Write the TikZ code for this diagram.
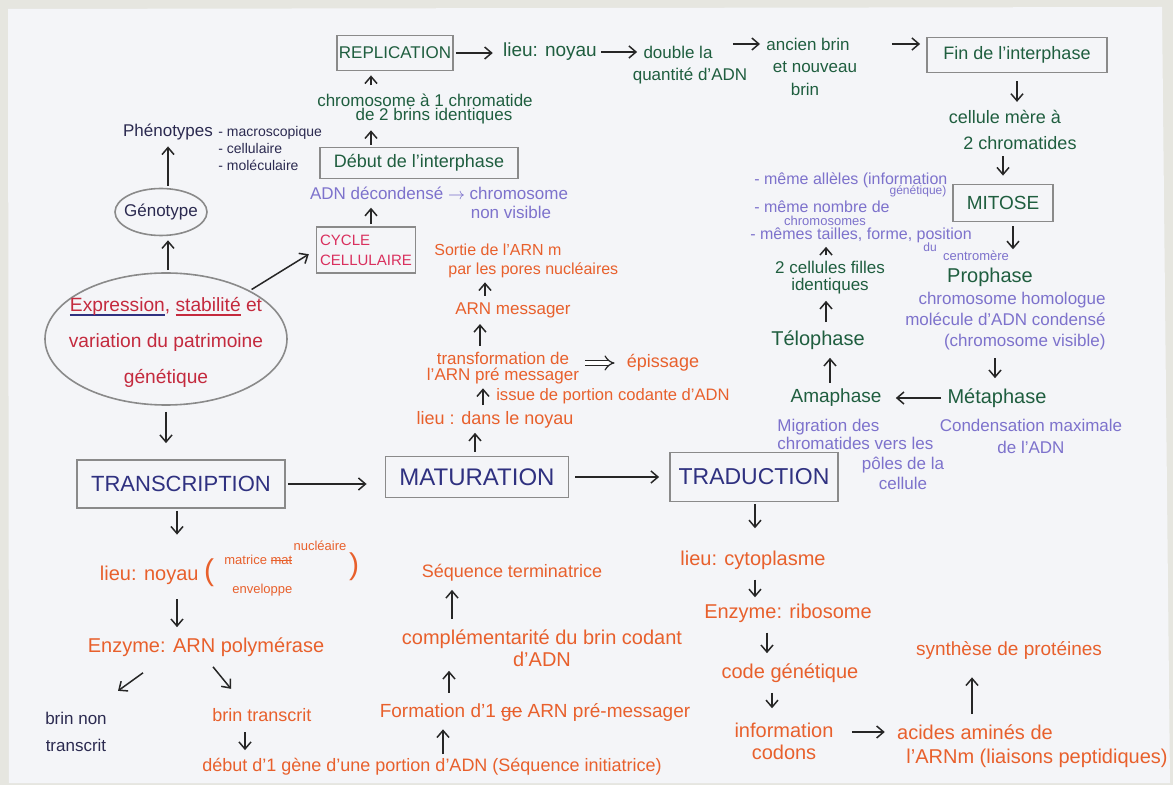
\documentclass[tikz,border=0pt]{standalone}
\usepackage{fontspec}
\setmainfont{Liberation Sans}
\usetikzlibrary{arrows.meta,shapes.geometric,calc}
\definecolor{bgc}{HTML}{E6E6E0}
\definecolor{paperc}{HTML}{F4F5F8}
\definecolor{navyc}{HTML}{2F3180}
\definecolor{darkc}{HTML}{2B2A50}
\definecolor{greenc}{HTML}{1F5E3F}
\definecolor{purplec}{HTML}{7D72CC}
\definecolor{orangec}{HTML}{E8602C}
\definecolor{redc}{HTML}{C42A3E}
\definecolor{pinkc}{HTML}{D9305E}
\definecolor{boxc}{HTML}{8A8A8A}
\newlength\myulw
\newcommand\colul[2]{\settowidth{\myulw}{#2}\rlap{\textcolor{#1}{\rule[-0.45ex]{\myulw}{0.7pt}}}#2}
\newcommand\strk[1]{\settowidth{\myulw}{#1}\rlap{\rule[0.5ex]{\myulw}{0.6pt}}#1}
\tikzset{
  fz/.style 2 args={font=\fontsize{#1}{#2}\selectfont},
  gtx/.style={text=greenc},
  ptx/.style={text=purplec},
  otx/.style={text=orangec},
  ntx/.style={text=navyc},
  dtx/.style={text=darkc},
  arr/.style={-{Straight Barb[length=3.5pt,width=6pt]}, line width=0.75pt, draw=black!85},
  dblarr/.style={-{Implies}, double, double distance=2pt, line width=0.6pt, draw=black!85},
  bx/.style 2 args={draw=boxc, line width=0.9pt, minimum width=#1, minimum height=#2, inner sep=1pt},
  ell/.style 2 args={ellipse, draw=boxc, line width=0.8pt, minimum width=#1, minimum height=#2, inner sep=0pt},
}
\begin{document}
\begin{tikzpicture}[x=0.5pt,y=-0.5pt, every node/.style={inner sep=1pt, align=center}]
\useasboundingbox (0,0) rectangle (1173,785);
\fill[bgc] (0,0) rectangle (1173,785);
\fill[paperc] (8,9) -- (1162,7) -- (1170,783) -- (9,783) -- cycle;

% ---------- top row ----------
\node[bx={58pt}{17.5pt}, gtx, fz={8.5}{10}] (repl) at (395,53) {REPLICATION};
\node[gtx, fz={9.5}{11}] (lieu1) at (550,52) {lieu: noyau};
\node[gtx, fz={8.5}{10}] (dbl1) at (678,52) {double la};
\node[gtx, fz={8.5}{10}] (dbl2) at (690,76) {quantité d'ADN};
\node[gtx, fz={8.5}{10}] (anc1) at (808,44) {ancien brin};
\node[gtx, fz={8.5}{10}] (anc2) at (815,67) {et nouveau};
\node[gtx, fz={8.5}{10}] (anc3) at (805,89) {brin};
\node[bx={90pt}{17.5pt}, gtx, fz={9}{10}] (fin) at (1017,55) {Fin de l'interphase};
\node[gtx, fz={9}{10}] (cel1) at (1005,117) {cellule mère à};
\node[gtx, fz={9}{10}] (cel2) at (1020,143) {2 chromatides};
\node[bx={50pt}{18.5pt}, gtx, fz={9.5}{10}] (mitose) at (1003,203) {MITOSE};

% ---------- mitosis cycle ----------
\node[gtx, fz={10}{11}] (proph) at (990,277) {Prophase};
\node[ptx, fz={8.5}{10.5}, align=right, anchor=east] (prd) at (1108,321) {chromosome homologue\\molécule d'ADN condensé\\(chromosome visible)};
\node[gtx, fz={10}{11}] (meta) at (997,398) {Métaphase};
\node[ptx, fz={8.5}{11}] (cond) at (1031,436) {Condensation maximale\\de l'ADN};
\node[gtx, fz={9.5}{11}] (ama) at (836,398) {Amaphase};
\node[ptx, fz={8.5}{9}, align=left, anchor=west] (mig1) at (775,434) {Migration des\\chromatides vers les};
\node[ptx, fz={8.5}{10}] (mig2) at (903,473) {pôles de la\\cellule};
\node[gtx, fz={10}{11}] (telo) at (818,340) {Télophase};
\node[gtx, fz={8.5}{8.5}] (fil) at (830,278) {2 cellules filles\\identiques};
\node[ptx, fz={8}{9}, anchor=west] (l1) at (752,180) {- même allèles (information};
\node[ptx, fz={6}{7}] (l1b) at (918,191) {génétique)};
\node[ptx, fz={8}{9}, anchor=west] (l2) at (752,207) {- même nombre de};
\node[ptx, fz={6.5}{7}] (l2b) at (825,221) {chromosomes};
\node[ptx, fz={8}{9}, anchor=west] (l3) at (748,235) {- mêmes tailles, forme, position};
\node[ptx, fz={6}{7}] (l3b) at (930,247) {du};
\node[ptx, fz={6.5}{7}] (l3c) at (976,256) {centromère};

% ---------- left part ----------
\node[dtx, fz={8.5}{10}] (phen) at (168,132) {Phénotypes};
\node[dtx, fz={7}{8.5}, align=left, anchor=west] (phl) at (216,149) {- macroscopique\\- cellulaire\\- moléculaire};
\node[ell={46pt}{23.5pt}] (geno) at (161,212) {};
\node[dtx, fz={8.5}{10}] (genot) at (geno.center) {Génotype};
\node[ell={121pt}{66pt}] (big) at (166,339) {};
\node[text=redc, fz={9.6}{18}] (bigt) at (166,342) {\colul{navyc}{Expression}, \colul{redc}{stabilité} et\\variation du patrimoine\\génétique};
\node[bx={49.5pt}{23pt}, text=pinkc, fz={7.5}{10}, align=left] (cycle) at (366,250) {CYCLE\\CELLULAIRE};
\node[bx={99pt}{15.5pt}, gtx, fz={9}{10}] (debut) at (419,163) {Début de l'interphase};
\node[ptx, fz={8.5}{10}] (dd1) at (439,193) {ADN décondensé $\to$ chromosome};
\node[ptx, fz={8.5}{10}] (dd2) at (511,212) {non visible};
\node[gtx, fz={8.5}{10}] (chr1) at (425,100) {chromosome à 1 chromatide};
\node[gtx, fz={8.5}{10}] (chr2) at (434,116) {de 2 brins identiques};

% ---------- main row ----------
\node[bx={104pt}{24pt}, ntx, fz={11}{12}] (trans) at (181,484) {TRANSCRIPTION};
\node[bx={91.5pt}{20.5pt}, ntx, fz={12}{13}] (matur) at (477,477) {MATURATION};
\node[bx={84pt}{24.5pt}, ntx, fz={11.5}{12}] (trad) at (754,477) {TRADUCTION};

% ---------- transcription branch ----------
\node[otx, fz={10}{11}] (lt) at (157,573) {lieu: noyau {\fontsize{15}{15}\selectfont (}};
\node[otx, fz={6.5}{7}, anchor=west] (ltm) at (222,560) {matrice \strk{mat}};
\node[otx, fz={6.5}{7}] (ltn) at (320,546) {nucléaire};
\node[otx, fz={6.5}{7}, anchor=west] (lte) at (230,590) {enveloppe};
\node[otx, fz={15}{15}] (ltp) at (354,567) {)};
\node[otx, fz={10}{11}] (enzT) at (206,647) {Enzyme: ARN polymérase};
\node[dtx, fz={8.5}{13.5}] (bnon) at (76,732) {brin non\\transcrit};
\node[otx, fz={9}{10}] (btr) at (262,715) {brin transcrit};
\node[otx, fz={9}{10}] (deb) at (432,767) {début d'1 gène d'une portion d'ADN (Séquence initiatrice)};
\node[otx, fz={9.5}{10}] (form) at (535,712) {Formation d'1 \strk{ge} ARN pré-messager};
\node[otx, fz={10}{11}] (compl) at (542,648) {complémentarité du brin codant\\d'ADN};
\node[otx, fz={9}{10}] (seqt) at (512,573) {Séquence terminatrice};

% ---------- maturation branch ----------
\node[otx, fz={9}{10}] (lm) at (495,420) {lieu : dans le noyau};
\node[otx, fz={8.3}{10}] (issue) at (613,396) {issue de portion codante d'ADN};
\node[otx, fz={8.5}{8}] (tf) at (503,368) {transformation de\\l'ARN pré messager};
\node[otx, fz={9}{10}] (epis) at (663,363) {épissage};
\node[otx, fz={8.5}{10}] (arnm) at (513,310) {ARN messager};
\node[otx, fz={8}{9.5}, align=left, anchor=west] (sort) at (432,261) {Sortie de l'ARN m\\\hspace*{7pt}par les pores nucléaires};

% ---------- traduction branch ----------
\node[otx, fz={10}{11}] (lc) at (753,560) {lieu: cytoplasme};
\node[otx, fz={10}{11}] (enzR) at (788,613) {Enzyme: ribosome};
\node[otx, fz={10}{11}] (code) at (790,673) {code génétique};
\node[otx, fz={10}{11}] (info) at (784,741) {information\\codons};
\node[otx, fz={10}{11}] (aa1) at (975,732) {acides aminés de};
\node[otx, fz={10}{11}] (aa2) at (1037,758) {l'ARNm (liaisons peptidiques)};
\node[otx, fz={9.5}{11}] (syn) at (1009,650) {synthèse de protéines};

% ---------- column coordinates ----------
\coordinate (colA) at (371,0);
\coordinate (colT) at (177,0);
\coordinate (colBT) at (245,0);
\coordinate (colF) at (443,0);
\coordinate (colC) at (449,0);
\coordinate (colS) at (452,0);
\coordinate (colM) at (475,0);
\coordinate (colM2) at (483,0);
\coordinate (colM3) at (480,0);
\coordinate (colM4) at (485,0);
\coordinate (colR) at (755,0);
\coordinate (colR2) at (767,0);
\coordinate (colR3) at (772,0);
\coordinate (colY) at (972,0);
\coordinate (colP) at (1013,0);
\coordinate (colMe) at (995,0);
\coordinate (colTe) at (830,0);
\coordinate (colFi) at (826,0);
\coordinate (colG) at (168,0);

% ---------- arrows: top ----------
\draw[arr, shorten <=1pt, shorten >=4pt] (repl.east) -- (repl.east -| lieu1.west);
\draw[arr, shorten <=1pt, shorten >=2pt] (lieu1.east) -- (lieu1.east -| dbl1.west);
\draw[arr, shorten <=9pt, shorten >=2pt] (anc1.west -| dbl1.east) -- (anc1.west);
\draw[arr, shorten <=20pt, shorten >=3pt] (anc1.east) -- (anc1.east -| fin.west);
\draw[arr, shorten <=4pt, shorten >=3pt] (fin.south) -- (fin.south |- cel1.north);
\draw[arr, shorten <=2pt, shorten >=4pt] (cel2.south -| mitose.north) -- (mitose.north);
\draw[arr, shorten <=2pt, shorten >=8pt] (mitose.south -| colP) -- (proph.north -| colP);
\draw[arr, shorten <=3pt, shorten >=4pt] (prd.south -| colMe) -- (meta.north -| colMe);
\draw[arr, shorten <=2pt, shorten >=6pt] (meta.west) -- (meta.west -| ama.east);
\draw[arr, shorten <=2pt, shorten >=3pt] (ama.north -| colTe) -- (telo.south -| colTe);
\draw[arr, shorten <=3pt, shorten >=2pt] (telo.north -| colFi) -- (fil.south -| colFi);
\draw[arr, shorten <=2pt, shorten >=1pt] (fil.north -| colFi) -- (l3.south -| colFi);

% ---------- arrows: left ----------
\draw[arr, shorten <=1pt, shorten >=2pt] (geno.north -| colG) -- (phen.south -| colG);
\draw[arr, shorten <=1pt, shorten >=2pt] (big.north -| colG) -- (geno.south -| colG);
\draw[arr, shorten <=1pt, shorten >=4pt] (big.30) -- (cycle.west);
\draw[arr, shorten <=1pt, shorten >=3pt] (cycle.north -| colA) -- (dd1.south -| colA);
\draw[arr, shorten <=1pt, shorten >=2pt] (debut.north -| colA) -- (chr2.south -| colA);
\draw[arr, shorten <=3pt, shorten >=2pt] (chr1.north -| colA) -- (repl.south -| colA);

% ---------- arrows: main row ----------
\draw[arr, shorten <=3pt, shorten >=8pt] (big.south) -- (big.south |- trans.north);
\draw[arr, shorten <=1pt, shorten >=9pt] (trans.east) -- (trans.east -| matur.west);
\draw[arr, shorten <=3pt, shorten >=5pt] (matur.east) -- (matur.east -| trad.west);

% ---------- arrows: transcription ----------
\draw[arr, shorten <=1pt, shorten >=11pt] (trans.south -| colT) -- (lt.north -| colT);
\draw[arr, shorten <=5pt, shorten >=4pt] (lt.south -| colT) -- (enzT.north -| colT);
\draw[arr] ($(enzT.south)+(-63,14)$) -- ($(enzT.south)+(-88,32)$);
\draw[arr] ($(enzT.south)+(7,8)$) -- ($(enzT.south)+(25,30)$);
\draw[arr, shorten <=4pt, shorten >=3pt] (btr.south -| colBT) -- (deb.north -| colBT);
\draw[arr, shorten <=1pt, shorten >=3pt] (deb.north -| colF) -- (form.south -| colF);
\draw[arr, shorten <=4pt, shorten >=1pt] (form.north -| colC) -- (compl.south -| colC);
\draw[arr, shorten <=4pt, shorten >=3pt] (compl.north -| colS) -- (seqt.south -| colS);

% ---------- arrows: maturation ----------
\draw[arr, shorten <=2pt, shorten >=1pt] (matur.north -| colM) -- (lm.south -| colM);
\draw[arr, shorten <=2pt, shorten >=1pt] (lm.north -| colM2) -- (tf.south -| colM2);
\draw[arr, shorten <=2pt, shorten >=2pt] (tf.north -| colM3) -- (arnm.south -| colM3);
\draw[arr, shorten <=2pt, shorten >=1pt] (arnm.north -| colM4) -- (sort.south -| colM4);
\draw[dblarr, shorten <=2pt, shorten >=5pt] (tf.east |- epis.west) -- (epis.west);

% ---------- arrows: traduction ----------
\draw[arr, shorten <=1pt, shorten >=10pt] (trad.south -| colR) -- (lc.north -| colR);
\draw[arr, shorten <=4pt, shorten >=2pt] (lc.south -| colR) -- (enzR.north -| colR);
\draw[arr, shorten <=4pt, shorten >=4pt] (enzR.south -| colR2) -- (code.north -| colR2);
\draw[arr, shorten <=4pt, shorten >=6pt] (code.south -| colR3) -- (info.north -| colR3);
\draw[arr, shorten <=8pt, shorten >=5pt] (aa1.west -| info.east) -- (aa1.west);
\draw[arr, shorten <=4pt, shorten >=8pt] (aa1.north -| colY) -- (syn.south -| colY);
\end{tikzpicture}
\end{document}
